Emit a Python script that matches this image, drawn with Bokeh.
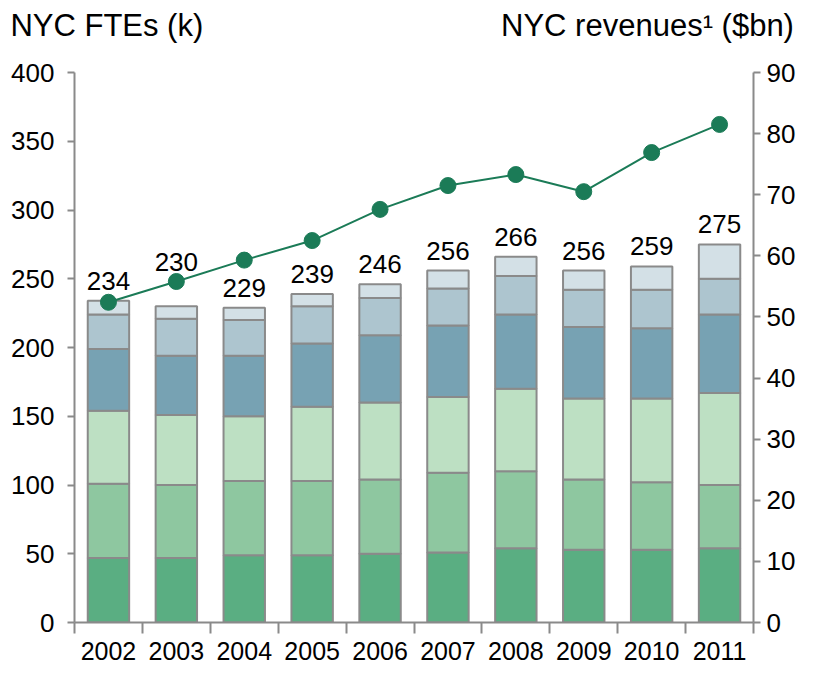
from bokeh.plotting import figure
from bokeh.models import ColumnDataSource, Range1d, LinearAxis, FixedTicker
from bokeh.embed import file_html
from bokeh.resources import INLINE
from bokeh.core.properties import value

years = ["2002", "2003", "2004", "2005", "2006", "2007", "2008", "2009", "2010", "2011"]
seg1 = [47, 47, 49, 49, 50, 51, 54, 53, 53, 54]
seg2 = [54, 53, 54, 54, 54, 58, 56, 51, 49, 46]
seg3 = [53, 51, 47, 54, 56, 55, 60, 59, 61, 67]
seg4 = [45, 43, 44, 46, 49, 52, 54, 52, 51, 57]
seg5 = [25, 27, 26, 27, 27, 27, 28, 27, 28, 26]
seg6 = [10, 9, 9, 9, 10, 13, 14, 14, 17, 25]
totals = [234, 230, 229, 239, 246, 256, 266, 256, 259, 275]
revenues = [52.4, 55.8, 59.3, 62.5, 67.6, 71.5, 73.3, 70.5, 76.9, 81.5]
left_ticks = [0, 50, 100, 150, 200, 250, 300, 350, 400]
right_ticks = [0, 10, 20, 30, 40, 50, 60, 70, 80, 90]
title_left = "NYC FTEs (k)"
title_right = "NYC revenues\u00b9 ($bn)"

FONT = "Liberation Sans"
GRAY = "#8a8a8a"
LINE_GREEN = "#1b7b57"
colors = ["#5aae82", "#8ec7a0", "#bde0c3", "#77a2b3", "#adc5cf", "#d3e0e6"]
keys = ["s1", "s2", "s3", "s4", "s5", "s6"]

W, H = 798, 667
BL, BR, BT, BB = 74, 42, 72, 45
FW = W - BL - BR
n = len(years)
step = FW / n

xs = list(range(n))
src = ColumnDataSource(dict(x=xs, s1=seg1, s2=seg2, s3=seg3, s4=seg4, s5=seg5, s6=seg6))

p = figure(width=W, height=H, output_backend="svg", toolbar_location=None,
           x_range=Range1d(-0.5, n - 0.5), y_range=Range1d(0, 400),
           min_border_left=BL, min_border_right=BR, min_border_top=BT,
           min_border_bottom=BB)
p.outline_line_color = None
p.xgrid.visible = False
p.ygrid.visible = False

p.vbar_stack(keys, x="x", width=0.61, source=src, fill_color=colors,
             line_color=GRAY, line_width=2)

# total labels; raised above the revenue dot where they would collide
scale = 400 / 90
offsets = []
for tot, r in zip(totals, revenues):
    d = r * scale - tot
    offsets.append(-44 if 0 < d < 25 else -20)
lsrc = ColumnDataSource(dict(x=xs, y=totals, t=[str(v) for v in totals], off=offsets))
p.text(x="x", y="y", text="t", y_offset="off", source=lsrc, text_align="center",
       text_baseline="alphabetic", text_font=value(FONT), text_font_size="26px",
       text_color="black")

p.extra_y_ranges = {"rev": Range1d(0, 90)}
p.line(xs, revenues, y_range_name="rev", line_color=LINE_GREEN, line_width=2)
p.scatter(xs, revenues, y_range_name="rev", size=16, fill_color=LINE_GREEN,
          line_color=LINE_GREEN)

def style_axis(ax):
    ax.axis_line_color = GRAY
    ax.axis_line_width = 2
    ax.major_tick_line_color = GRAY
    ax.major_tick_line_width = 2
    ax.minor_tick_line_color = GRAY
    ax.minor_tick_line_width = 2
    ax.major_label_text_font = FONT
    ax.major_label_text_font_size = "26px"
    ax.major_label_text_color = "black"
    ax.major_tick_in = 0

xa = p.xaxis[0]
xa.ticker = FixedTicker(ticks=xs, minor_ticks=[i - 0.5 for i in range(n + 1)])
xa.major_label_overrides = {i: y for i, y in enumerate(years)}
style_axis(xa)
xa.major_label_text_font_size = "25px"
xa.major_tick_out = 0
xa.minor_tick_out = 11
xa.minor_tick_in = 0
xa.major_label_standoff = 8

ya = p.yaxis[0]
ya.ticker = FixedTicker(ticks=left_ticks, minor_ticks=[])
style_axis(ya)
ya.major_tick_out = 7
ya.major_label_standoff = 13

ra = LinearAxis(y_range_name="rev", ticker=FixedTicker(ticks=right_ticks, minor_ticks=[]))
style_axis(ra)
ra.major_tick_out = 7
ra.major_label_standoff = 6
p.add_layout(ra, "right")

# headings drawn as labels of a bare axis above the frame
TITLE_PX = 31
def px_to_x(px):
    return round((px - BL) / step - 0.5, 3)
w_left = 6.222 * TITLE_PX
w_right = 9.447 * TITLE_PX
tx_left = px_to_x(10 + w_left / 2)
tx_right = px_to_x(W - 2 - w_right / 2)
ta = LinearAxis(ticker=FixedTicker(ticks=[tx_left, tx_right], minor_ticks=[]))
ta.major_label_overrides = {tx_left: title_left, tx_right: title_right}
ta.axis_line_color = None
ta.major_tick_line_color = None
ta.minor_tick_line_color = None
ta.major_tick_out = 0
ta.major_label_standoff = 30
ta.major_label_text_font = FONT
ta.major_label_text_font_size = f"{TITLE_PX}px"
ta.major_label_text_color = "black"
p.add_layout(ta, "above")

open("out.html", "w").write(file_html(p, INLINE))
